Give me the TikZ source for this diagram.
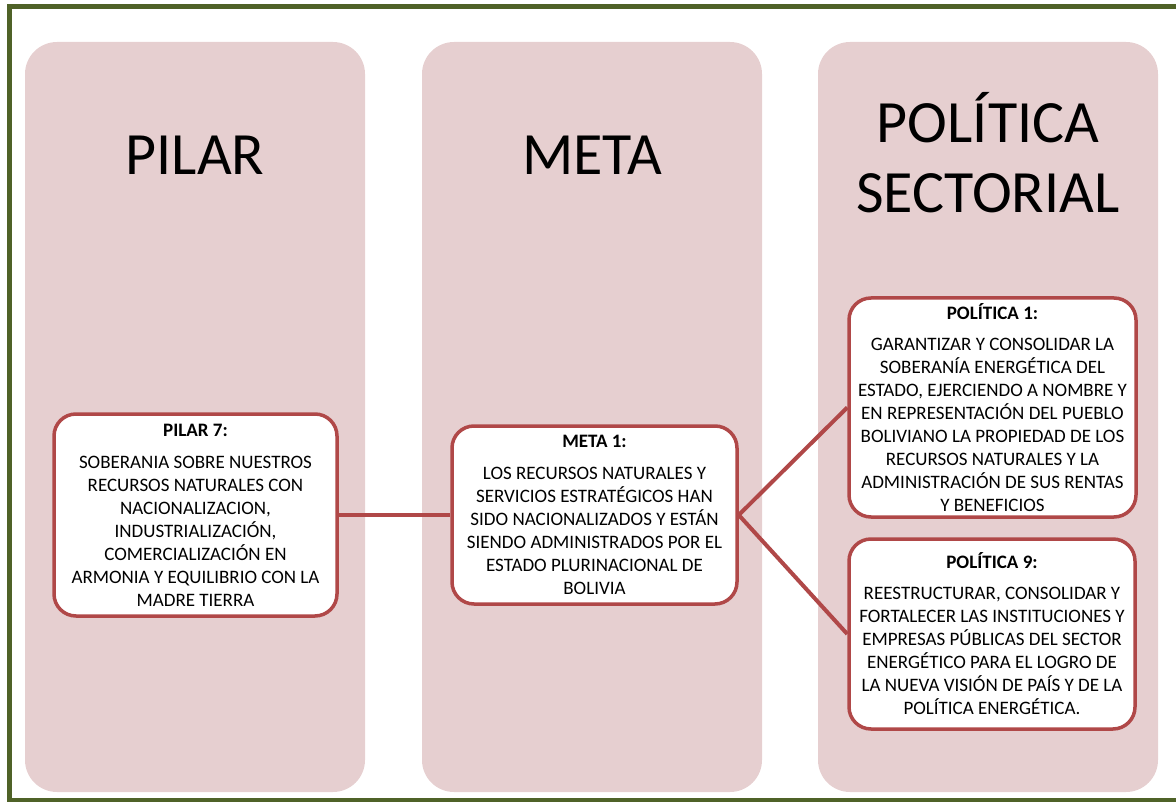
\documentclass[tikz,border=0pt]{standalone}
\usepackage{fontspec}
\setmainfont{Carlito}
\usetikzlibrary{positioning}
\definecolor{framegreen}{RGB}{79,98,40}
\definecolor{columnpink}{RGB}{230,207,208}
\definecolor{boxred}{RGB}{176,72,72}

\begin{document}
\begin{tikzpicture}[x=1pt, y=-1pt,
    column/.style={rectangle, rounded corners=32pt, fill=columnpink, minimum width=340pt, minimum height=750pt, inner sep=0pt},
    heading/.style={align=center, font=\fontsize{60}{70}\selectfont},
    box/.style={draw=boxred, line width=3.5pt, fill=white, rounded corners=22pt, rectangle, align=center, inner xsep=3pt, font=\fontsize{19}{23}\selectfont},
    link/.style={draw=boxred, line width=4pt}]

    \useasboundingbox (0,0) rectangle (1176,802);
    \draw[framegreen, line width=5pt, line join=miter] (1176,6.5) -- (9.5,6.5) -- (9.5,800.5) -- (1176,800.5);

    % columns
    \node[column] (colpilar) at (195,417) {};
    \node[column] (colmeta) at (592,417) {};
    \node[column] (colpolitica) at (988,417) {};

    \node[heading] (hpilar) at (195,155) {PILAR};
    \node[heading] (hmeta) at (592,155) {META};
    \node[heading] (hpolitica) at (988,153) {POLÍTICA\\SECTORIAL};

    % boxes
    \node[box, minimum width=283pt, minimum height=202pt] (pilar) at (195.5,515) {\textbf{PILAR 7:}\\[9pt]
        SOBERANIA SOBRE NUESTROS\\ RECURSOS NATURALES CON\\ NACIONALIZACION,\\ INDUSTRIALIZACIÓN,\\ COMERCIALIZACIÓN EN\\ ARMONIA Y EQUILIBRIO CON LA\\ MADRE TIERRA};
    \node[box, minimum width=285pt, minimum height=178pt] (meta) at (594.5,515) {\textbf{META 1:}\\[9pt]
        LOS RECURSOS NATURALES Y\\ SERVICIOS ESTRATÉGICOS HAN\\ SIDO NACIONALIZADOS Y ESTÁN\\ SIENDO ADMINISTRADOS POR EL\\ ESTADO PLURINACIONAL DE\\ BOLIVIA};
    \node[box, minimum width=287pt, minimum height=219pt] (pol1) at (992.5,407.5) {\textbf{POLÍTICA 1:}\\[8pt]
        GARANTIZAR Y CONSOLIDAR LA\\ SOBERANÍA ENERGÉTICA DEL\\ ESTADO, EJERCIENDO A NOMBRE Y\\ EN REPRESENTACIÓN DEL PUEBLO\\ BOLIVIANO LA PROPIEDAD DE LOS\\ RECURSOS NATURALES Y LA\\ ADMINISTRACIÓN DE SUS RENTAS\\ Y BENEFICIOS};
    \node[box, minimum width=286pt, minimum height=190pt] (pol9) at (992,634) {\textbf{POLÍTICA 9:}\\[8pt]
        REESTRUCTURAR, CONSOLIDAR Y\\ FORTALECER LAS INSTITUCIONES Y\\ EMPRESAS PÚBLICAS DEL SECTOR\\ ENERGÉTICO PARA EL LOGRO DE\\ LA NUEVA VISIÓN DE PAÍS Y DE LA\\ POLÍTICA ENERGÉTICA.};

    % links
    \draw[link] (pilar.east) -- (meta.west);
    \draw[link] (meta.east) -- (pol1.west);
    \draw[link] (meta.east) -- (pol9.west);
\end{tikzpicture}
\end{document}
